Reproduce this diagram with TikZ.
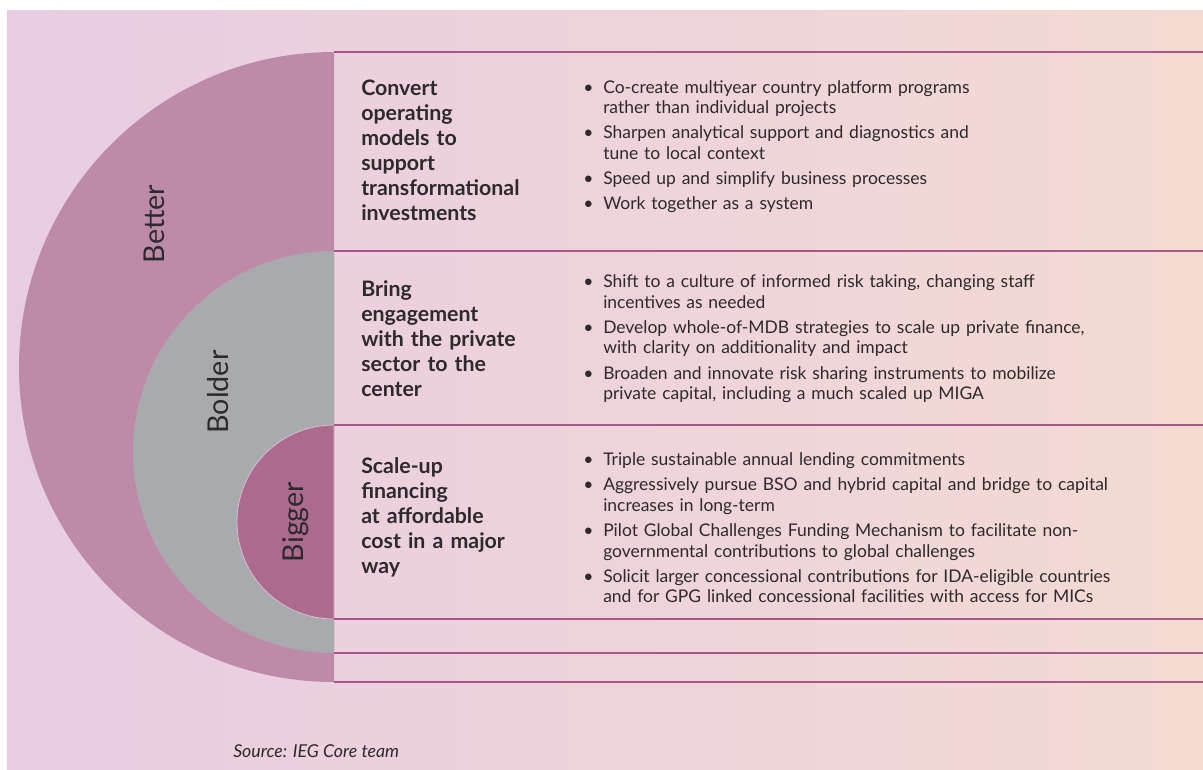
\documentclass[tikz,border=0pt]{standalone}
\usepackage{fontspec}
\setmainfont{Lato}
\usepackage{enumitem}
\usepackage{tikz}
\usetikzlibrary{positioning,calc}

\definecolor{bgleft}{HTML}{E8CCE1}
\definecolor{bgright}{HTML}{F4DAD3}
\definecolor{betterc}{HTML}{BD8BA8}
\definecolor{bolderc}{HTML}{A9AAAE}
\definecolor{biggerc}{HTML}{AC6A8E}
\definecolor{rulec}{HTML}{AA568B}
\definecolor{inkc}{HTML}{2C2A2C}

\tikzset{band/.style={draw=none}}
\tikzstyle{head}=[inner sep=0pt, anchor=north west, align=left, text width=160pt, text=inkc, font=\fontsize{16}{18.75}\selectfont\bfseries]
\tikzstyle{blist}=[inner sep=0pt, anchor=north west, text width=440pt, text=inkc, font=\fontsize{13.1}{15.4}\selectfont]
\tikzstyle{ring}=[inner sep=0pt, rotate=90, text=inkc, font=\fontsize{21.5}{24}\selectfont]
\tikzstyle{rowrule}=[draw=rulec, line width=1.4pt]

\setlist[itemize]{label=\textbullet, leftmargin=15pt, labelwidth=15pt, labelsep=0pt, align=left, topsep=0pt, partopsep=0pt, parsep=0pt, itemsep=3.4pt}

\begin{document}
\begin{tikzpicture}[x=0.75pt, y=-0.75pt]
\useasboundingbox (0,0) rectangle (1203,769);
\shade[left color=bgleft, right color=bgright] (7,10) rectangle (1203,769);

% the three half disks
\fill[band, betterc] (334,52) arc[start angle=270, end angle=90, radius=315] -- cycle;
\fill[band, bolderc] (334,251) arc[start angle=270, end angle=90, radius=201] -- cycle;
\filldraw[band, fill=biggerc, draw=white!55!biggerc, line width=0.6pt] (334,425) arc[start angle=270, end angle=90, radius=97] -- cycle;

\node[ring] (lbetter) at (154,224) {Better};
\node[ring] (lbolder) at (218,392) {Bolder};
\node[ring] (lbigger) at (296,522) {Bigger};

% rows
\foreach \y in {52,251,425,619,653,682}
  \draw[rowrule] (334,\y) -- (1203,\y);

\node[head] (hbetter) at (361,79.5) {Convert\\operating\\models to\\support\\transformational\\investments};
\node[head] (hbolder) at (361,280) {Bring\\engagement\\with the private\\sector to the\\center};
\node[head] (hbigger) at (361,457.5) {Scale-up\\financing\\at affordable\\cost in a major\\way};

\node[blist] (bbetter) at (583,72.5) {\begin{itemize}
\item Co-create multiyear country platform programs\newline rather than individual projects
\item Sharpen analytical support and diagnostics and\newline tune to local context
\item Speed up and simplify business processes
\item Work together as a system
\end{itemize}};
\node[blist] (bbolder) at (583,267) {\begin{itemize}
\item Shift to a culture of informed risk taking, changing staff\newline incentives as needed
\item Develop whole-of-MDB strategies to scale up private finance,\newline with clarity on additionality and impact
\item Broaden and innovate risk sharing instruments to mobilize\newline private capital, including a much scaled up MIGA
\end{itemize}};
\node[blist] (bbigger) at (583,445) {\begin{itemize}
\item Triple sustainable annual lending commitments
\item Aggressively pursue BSO and hybrid capital and bridge to capital\newline increases in long-term
\item Pilot Global Challenges Funding Mechanism to facilitate non-\newline governmental contributions to global challenges
\item Solicit larger concessional contributions for IDA-eligible countries\newline and for GPG linked concessional facilities with access for MICs
\end{itemize}};

\node[inner sep=0pt, anchor=west, text=inkc, font=\fontsize{13.3}{15}\selectfont\itshape] (src) at (233,751) {Source: IEG Core team};
\end{tikzpicture}
\end{document}
